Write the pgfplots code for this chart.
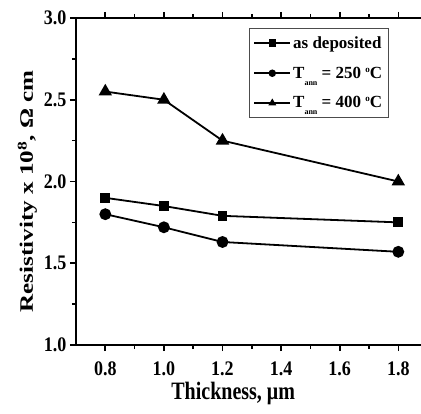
\documentclass[border=0pt]{standalone}
\usepackage{pgfplots}
\pgfplotsset{compat=1.18}
\usepackage{fontspec}
\setmainfont{Liberation Serif}

% legend subscript and degree sign as in the original figure
\newcommand{\ann}{\raisebox{-7pt}{\fontsize{8}{8}\selectfont ann}}
\newcommand{\degr}{\raisebox{6pt}{\fontsize{9}{9}\selectfont o}}

\begin{document}
\begin{tikzpicture}
\useasboundingbox (-76pt,-68pt) rectangle (345pt,345pt);
\begin{axis}[
    at={(0,0)},anchor=south west,
    scale only axis,
    width=351.6pt,height=327pt,
    xmin=0.7,xmax=1.9,ymin=1.0,ymax=3.0,
    xtick={0.8,1.0,1.2,1.4,1.6,1.8},
    ytick={1.0,1.5,2.0,2.5,3.0},
    minor tick num=1,
    tick align=outside,
    major tick length=6pt,minor tick length=4pt,
    every tick/.style={black,line width=1.6pt},
    axis line style={line width=2.2pt},
    xticklabel style={yshift=-7pt,/pgf/number format/.cd,fixed,fixed zerofill,precision=1},
    yticklabel style={/pgf/number format/.cd,fixed,fixed zerofill,precision=1},
    /pgf/number format/assume math mode=true,
    tick label style={font=\fontsize{18}{20}\selectfont\bfseries},
    xticklabel={\scalebox{1}[1.15]{\pgfmathprintnumber{\tick}}},
    yticklabel={\scalebox{1}[1.15]{\pgfmathprintnumber{\tick}}},
    xlabel={\scalebox{1}[1.25]{Thickness, μm}},
    xlabel style={font=\fontsize{20}{22}\selectfont\bfseries,
        at={(axis description cs:0.447,0)},anchor=north,yshift=-34pt},
    ylabel={\scalebox{1.32}[1]{Resistivity x 10\textsuperscript{8}, Ω cm}},
    ylabel style={font=\fontsize{19}{21}\selectfont\bfseries,
        at={(ticklabel cs:0.47)}},
    legend style={at={(axis description cs:0.492,0.969)},anchor=north west,
        draw=black!70,line width=0.8pt,
        font=\fontsize{17}{19}\selectfont\bfseries,
        inner xsep=4pt,inner ysep=6pt,row sep=13pt},
    legend cell align=left,
    legend image code/.code={
        \draw[mark repeat=2,mark phase=2,mark size=2.8pt]
            plot coordinates {(0pt,0pt)(18pt,0pt)(36pt,0pt)};},
    every axis plot/.append style={black,line width=1.8pt},
]
\addplot[mark=square*,mark size=4pt] coordinates {
    (0.8,1.90) (1.0,1.85) (1.2,1.79) (1.8,1.75)};
\addlegendentry{as deposited}
\addplot[mark=*,mark size=5pt] coordinates {
    (0.8,1.80) (1.0,1.72) (1.2,1.63) (1.8,1.57)};
\addlegendentry{T\ann\ = 250 \degr C}
\addplot[mark=triangle*,mark size=6pt] coordinates {
    (0.8,2.55) (1.0,2.50) (1.2,2.25) (1.8,2.00)};
\addlegendentry{T\ann\ = 400 \degr C}
\end{axis}
\end{tikzpicture}
\end{document}
